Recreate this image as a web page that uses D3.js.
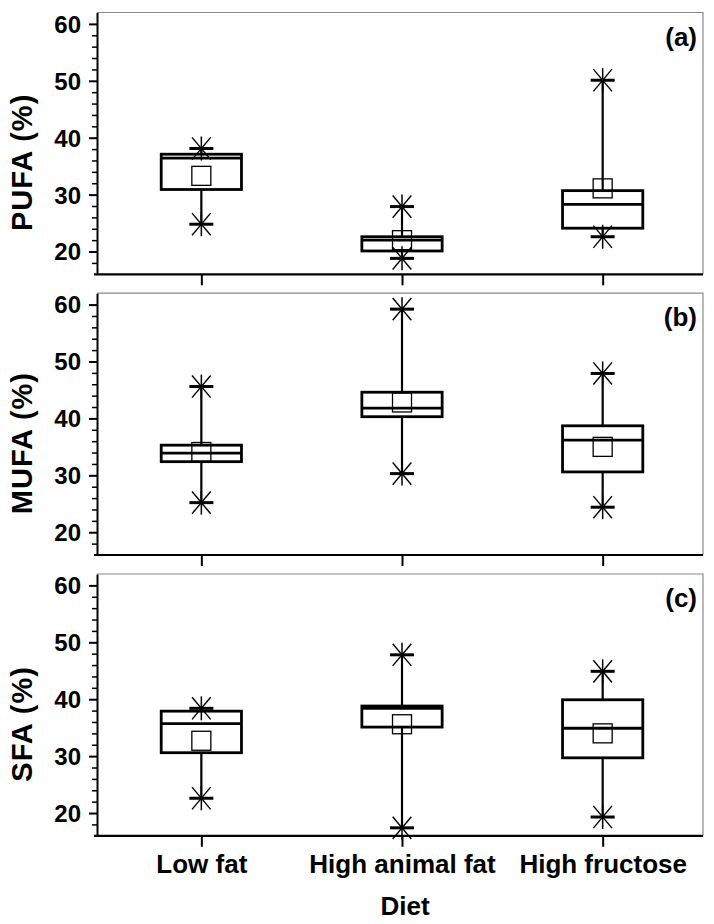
<!DOCTYPE html>
<html>
<head>
<meta charset="utf-8">
<script src="https://cdn.jsdelivr.net/npm/d3@7"></script>
<style>
  body { margin: 0; background: #fff; }
  svg { display: block; }
  text { font-family: "Liberation Sans", Arial, sans-serif; font-weight: bold; fill: #000; }
</style>
</head>
<body>
<svg id="chart" width="714" height="924"></svg>
<script>
// ---- data ----
const categories = ["Low fat", "High animal fat", "High fructose"];
const panelNames = ["PUFA (%)", "MUFA (%)", "SFA (%)"];
const panelTags = ["(a)", "(b)", "(c)"];
const yTicks = [20, 30, 40, 50, 60];

// PUFA
const pufaMin    = [24.8, 18.8, 22.6];
const pufaQ1     = [30.9, 20.1, 24.1];
const pufaMedian = [36.4, 22.0, 28.3];
const pufaQ3     = [37.1, 22.6, 30.7];
const pufaMax    = [38.1, 27.9, 50.1];
const pufaMean   = [33.3, 22.0, 31.1];
// MUFA
const mufaMin    = [25.2, 30.3, 24.4];
const mufaQ1     = [32.4, 40.3, 30.6];
const mufaMedian = [33.9, 41.8, 36.2];
const mufaQ3     = [35.3, 44.6, 38.7];
const mufaMax    = [45.6, 59.2, 47.9];
const mufaMean   = [34.1, 42.8, 35.0];
// SFA
const sfaMin     = [22.6, 17.4, 19.3];
const sfaQ1      = [30.6, 35.1, 29.7];
const sfaMedian  = [35.7, 38.4, 34.9];
const sfaQ3      = [37.9, 38.8, 39.9];
const sfaMax     = [38.4, 47.8, 44.9];
const sfaMean    = [32.7, 35.6, 34.0];

const panels = [
  {min: pufaMin, q1: pufaQ1, med: pufaMedian, q3: pufaQ3, max: pufaMax, mean: pufaMean},
  {min: mufaMin, q1: mufaQ1, med: mufaMedian, q3: mufaQ3, max: mufaMax, mean: mufaMean},
  {min: sfaMin,  q1: sfaQ1,  med: sfaMedian,  q3: sfaQ3,  max: sfaMax,  mean: sfaMean}
];

// ---- layout ----
const svg = d3.select("#chart");
const left = 97, right = 703;
const panelTop = [12.5, 293.2, 574];
const plotH = 261.8;
const x = d3.scaleLinear().domain([0.48, 3.5]).range([left, right]);
const boxHalf = 0.2;
const capHalf = 12;

panels.forEach((p, pi) => {
  const top = panelTop[pi], bottom = top + plotH;
  const y = d3.scaleLinear().domain([16, 62]).range([bottom, top]);
  const g = svg.append("g");

  // frame top/right
  g.append("path")
    .attr("d", `M${left},${top}H${right}V${bottom}`)
    .attr("fill", "none").attr("stroke", "#8a8a8a").attr("stroke-width", 1.2);

  // minor ticks
  const minor = d3.range(18, 62, 2).filter(v => v % 10 !== 0);
  g.append("g").attr("transform", `translate(${left},0)`)
    .call(d3.axisLeft(y).tickValues(minor).tickSize(5).tickSizeOuter(0).tickFormat(""))
    .call(a => a.select(".domain").remove())
    .call(a => a.selectAll("line").attr("stroke-width", 1.5));

  // major axis
  g.append("g").attr("transform", `translate(${left},0)`)
    .call(d3.axisLeft(y).tickValues(yTicks).tickSize(8).tickSizeOuter(0).tickPadding(8))
    .call(a => a.select(".domain").attr("stroke-width", 2))
    .call(a => a.selectAll("line").attr("stroke-width", 2))
    .call(a => a.selectAll("text").attr("font-size", 24).attr("font-family", "'Liberation Sans', Arial, sans-serif").attr("font-weight", "bold").attr("dy", "0.35em"));

  // bottom axis
  g.append("g").attr("transform", `translate(0,${bottom})`)
    .call(d3.axisBottom(x).tickValues([1, 2, 3]).tickSize(11).tickSizeOuter(0)
      .tickFormat((d) => pi === 2 ? categories[d - 1] : "").tickPadding(8))
    .call(a => a.select(".domain").attr("stroke-width", 2.2).attr("d", `M${left - 3},0H${right}`))
    .call(a => a.selectAll("line").attr("stroke-width", 2))
    .call(a => a.selectAll("text").attr("font-size", 26).attr("font-family", "'Liberation Sans', Arial, sans-serif").attr("font-weight", "bold"));

  // y title
  g.append("text")
    .attr("transform", `translate(32,${(top + bottom) / 2 + 19}) rotate(-90)`)
    .attr("text-anchor", "middle")
    .attr("font-size", 29)
    .attr("letter-spacing", 1)
    .text(panelNames[pi]);

  // panel tag
  g.append("text")
    .attr("x", 697).attr("y", top + 33)
    .attr("text-anchor", "end")
    .attr("font-size", 26)
    .text(panelTags[pi]);

  categories.forEach((c, i) => {
    const cx = x(i + 1);
    const x0 = x(i + 1 - boxHalf), x1 = x(i + 1 + boxHalf);
    // whiskers
    g.append("line").attr("x1", cx).attr("x2", cx)
      .attr("y1", y(p.q3[i])).attr("y2", y(p.max[i]))
      .attr("stroke", "#000").attr("stroke-width", 2.2);
    g.append("line").attr("x1", cx).attr("x2", cx)
      .attr("y1", y(p.q1[i])).attr("y2", y(p.min[i]))
      .attr("stroke", "#000").attr("stroke-width", 2.2);
    // box
    g.append("rect")
      .attr("x", x0).attr("y", y(p.q3[i]))
      .attr("width", x1 - x0).attr("height", y(p.q1[i]) - y(p.q3[i]))
      .attr("fill", "none").attr("stroke", "#000").attr("stroke-width", 2.8);
    // median
    g.append("line").attr("x1", x0).attr("x2", x1)
      .attr("y1", y(p.med[i])).attr("y2", y(p.med[i]))
      .attr("stroke", "#000").attr("stroke-width", 2.8);
    // mean square
    g.append("rect")
      .attr("x", cx - 9.5).attr("y", y(p.mean[i]) - 9.5)
      .attr("width", 19).attr("height", 19)
      .attr("fill", "none").attr("stroke", "#000").attr("stroke-width", 1.3);
    // stars at min and max
    [p.min[i], p.max[i]].forEach(v => {
      const sy = y(v);
      const sg = g.append("g").attr("transform", `translate(${cx},${sy})`);
      sg.append("line").attr("x1", -capHalf).attr("x2", capHalf).attr("y1", 0).attr("y2", 0)
        .attr("stroke", "#000").attr("stroke-width", 3);
      sg.append("line").attr("x1", 0).attr("x2", 0).attr("y1", -12).attr("y2", 12)
        .attr("stroke", "#000").attr("stroke-width", 1.5);
      [50, -50].forEach(ang => {
        const r = ang * Math.PI / 180, L = 14.5;
        sg.append("line")
          .attr("x1", -L * Math.cos(r)).attr("y1", -L * Math.sin(r))
          .attr("x2", L * Math.cos(r)).attr("y2", L * Math.sin(r))
          .attr("stroke", "#000").attr("stroke-width", 1.4);
      });
    });
  });
});

// x title
svg.append("text")
  .attr("x", 405).attr("y", 915)
  .attr("text-anchor", "middle")
  .attr("font-size", 26)
  .text("Diet");
</script>
</body>
</html>
